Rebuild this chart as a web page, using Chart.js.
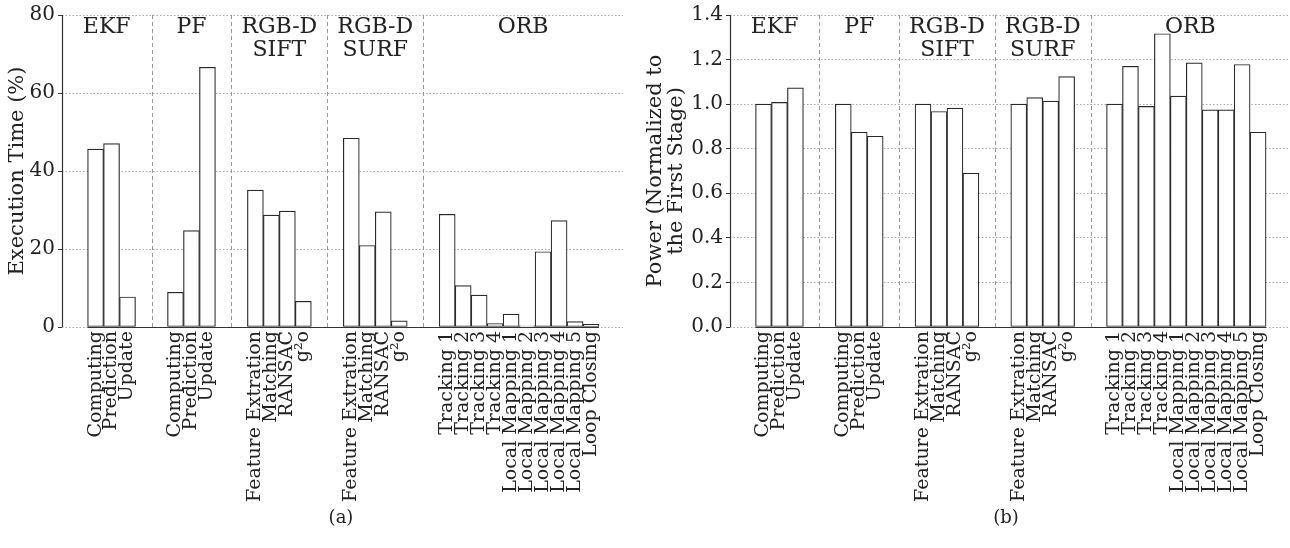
<!DOCTYPE html>
<html>
<head>
<meta charset="utf-8">
<script src="https://cdn.jsdelivr.net/npm/chart.js@4.4.1/dist/chart.umd.min.js"></script>
<style>
  html, body { margin: 0; padding: 0; background: #fff; width: 1290px; height: 548px; overflow: hidden; }
  canvas { position: absolute; top: 0; }
  #c1 { left: 0; }
  #c2 { left: 645px; }
  .cap { position: absolute; top: 506px; font-family: "DejaVu Serif", serif; font-size: 18px; color: #222; transform: translateX(-50%); }
</style>
</head>
<body>
<canvas id="c1" width="645" height="548"></canvas>
<canvas id="c2" width="645" height="548"></canvas>
<div class="cap" style="left:341px">(a)</div>
<div class="cap" style="left:1006px">(b)</div>
<script>
// ---- data ----
const groupNames = [["EKF"], ["PF"], ["RGB-D", "SIFT"], ["RGB-D", "SURF"], ["ORB"]];
const groupStages = [
  ["Computing", "Prediction", "Update"],
  ["Computing", "Prediction", "Update"],
  ["Feature Extration", "Matching", "RANSAC", "g\u00B2o"],
  ["Feature Extration", "Matching", "RANSAC", "g\u00B2o"],
  ["Tracking 1", "Tracking 2", "Tracking 3", "Tracking 4", "Local Mapping 1", "Local Mapping 2",
   "Local Mapping 3", "Local Mapping 4", "Local Mapping 5", "Loop Closing"]
];
const execTime = [
  45.6, 47.0, 7.7,
  8.9, 24.7, 66.6,
  35.1, 28.7, 29.7, 6.6,
  48.4, 20.9, 29.5, 1.6,
  28.9, 10.6, 8.2, 0.9, 3.3, 0.3, 19.3, 27.3, 1.4, 0.7
];
const powerNorm = [
  1.000, 1.008, 1.073,
  1.000, 0.874, 0.856,
  1.000, 0.967, 0.982, 0.690,
  1.000, 1.029, 1.014, 1.124,
  1.000, 1.170, 0.990, 1.316, 1.036, 1.185, 0.974, 0.974, 1.178, 0.874
];
const execTicks = [0, 20, 40, 60, 80];
const powerTicks = [0, 0.2, 0.4, 0.6, 0.8, 1.0, 1.2, 1.4];

// ---- derived slot positions (two empty slots between groups) ----
const GAP = 2;
const positions = [], stageLabels = [], separators = [];
let slot = 0;
groupStages.forEach((g, gi) => {
  if (gi > 0) { separators.push(slot - 0.5 - GAP / 2); }
  g.forEach(s => { positions.push(slot); stageLabels.push(s); slot++; });
  slot += GAP;
});
const lastPos = positions[positions.length - 1];
const X_MIN = -2.1, X_MAX = lastPos + 2;

const FONT = '"DejaVu Serif", "Liberation Serif", serif';
const INK = '#222';

const decoPlugin = {
  id: 'deco',
  beforeDatasetsDraw(chart) {
    const ctx = chart.ctx, xs = chart.scales.x, area = chart.chartArea;
    ctx.save();
    ctx.strokeStyle = '#9a9a9a';
    ctx.lineWidth = 1;
    ctx.setLineDash([4, 3]);
    separators.forEach(s => {
      const px = Math.round(xs.getPixelForValue(s)) + 0.5;
      ctx.beginPath(); ctx.moveTo(px, area.top); ctx.lineTo(px, area.bottom); ctx.stroke();
    });
    ctx.restore();
  },
  afterDatasetsDraw(chart) {
    const ctx = chart.ctx, xs = chart.scales.x, ys = chart.scales.y, area = chart.chartArea;
    ctx.save();
    // left spine (solid)
    const lx = Math.round(area.left) + 0.5;
    ctx.strokeStyle = '#333';
    ctx.lineWidth = 1.2;
    ctx.setLineDash([]);
    ctx.beginPath(); ctx.moveTo(lx, area.top); ctx.lineTo(lx, area.bottom); ctx.stroke();
    // solid baseline under the bar run
    const y0 = Math.round(ys.getPixelForValue(0)) + 0.5;
    ctx.beginPath();
    ctx.moveTo(xs.getPixelForValue(positions[0] - 0.5), y0);
    ctx.lineTo(xs.getPixelForValue(lastPos + 0.5), y0);
    ctx.stroke();
    // group titles
    const bounds = [X_MIN, ...separators, X_MAX];
    ctx.fillStyle = INK;
    ctx.font = '22px ' + FONT;
    ctx.textAlign = 'center';
    ctx.textBaseline = 'alphabetic';
    groupNames.forEach((lines, i) => {
      const cx = (xs.getPixelForValue(bounds[i]) + xs.getPixelForValue(bounds[i + 1])) / 2;
      lines.forEach((t, li) => ctx.fillText(t, cx, area.top + 18 + li * 23));
    });
    ctx.restore();
  }
};

function makeChart(id, values, yTicks, yTitle, yWidth, padRight, titlePad, fmt) {
  const data = positions.map((p, i) => ({ x: p, y: values[i] }));
  return new Chart(document.getElementById(id), {
    type: 'bar',
    data: {
      datasets: [{
        data,
        backgroundColor: '#ffffff',
        borderColor: '#2a2a2a',
        borderWidth: 1.2,
        borderSkipped: false,
        barPercentage: 1.0,
        categoryPercentage: 1.0
      }]
    },
    plugins: [decoPlugin],
    options: {
      responsive: false,
      animation: false,
      events: [],
      layout: { padding: { top: 14, right: padRight, left: 0, bottom: 0 } },
      plugins: { legend: { display: false }, tooltip: { enabled: false } },
      scales: {
        x: {
          type: 'linear',
          offset: false,
          min: X_MIN, max: X_MAX,
          afterBuildTicks: s => { s.ticks = positions.map(v => ({ value: v })); },
          afterFit: s => { s.height = 221; },
          grid: { display: false, drawTicks: false },
          border: { display: false },
          ticks: {
            autoSkip: false, maxRotation: 90, minRotation: 90, padding: 4,
            color: INK, font: { family: FONT, size: 19 },
            callback: v => { const i = positions.indexOf(v); return i >= 0 ? stageLabels[i] : ''; }
          }
        },
        y: {
          min: yTicks[0], max: yTicks[yTicks.length - 1],
          afterBuildTicks: s => { s.ticks = yTicks.map(v => ({ value: v })); },
          afterFit: s => { s.width = yWidth; },
          grid: {
            color: '#a8a8a8', lineWidth: 1,
            drawTicks: true, tickLength: 4, tickColor: '#333', tickBorderDash: [], tickWidth: 1
          },
          border: { display: false, dash: [1.5, 2] },
          title: {
            display: true, text: yTitle, color: INK,
            font: { family: FONT, size: 21, lineHeight: 1.0 }, padding: { top: titlePad, bottom: 2 }
          },
          ticks: {
            color: INK, font: { family: FONT, size: 20 }, padding: 3,
            callback: fmt
          }
        }
      }
    }
  });
}

makeChart('c1', execTime, execTicks, 'Execution Time (%)', 62, 22, 7, v => String(v));
makeChart('c2', powerNorm, powerTicks, ['Power (Normalized to', 'the First Stage)'], 85, 0, 0, v => v.toFixed(1));
</script>
</body>
</html>
